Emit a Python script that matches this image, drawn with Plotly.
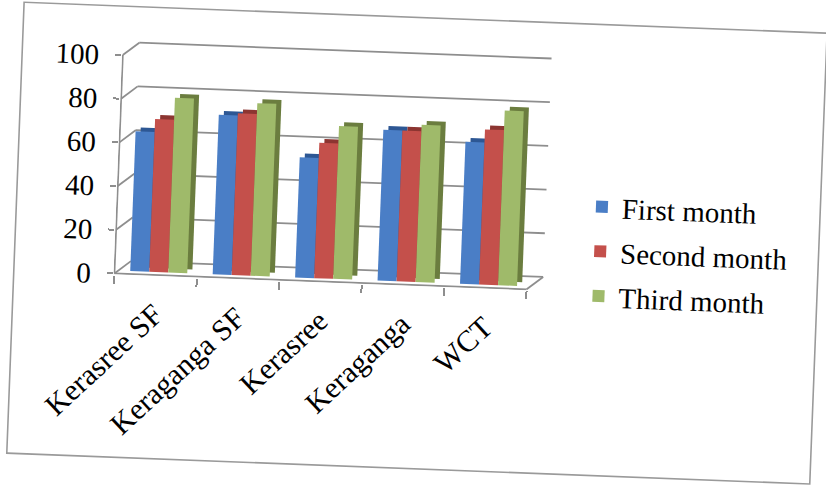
import plotly.graph_objects as go

# ---- data -----------------------------------------------------------------
categories = ["Kerasree SF", "Keraganga SF", "Kerasree", "Keraganga", "WCT"]
series_names = ["First month", "Second month", "Third month"]
first_month = [64, 73, 55, 69, 65]
second_month = [70, 74, 62, 69, 71]
third_month = [80, 79, 70, 72, 80]
y_ticks = [0, 20, 40, 60, 80, 100]

series_values = [first_month, second_month, third_month]
front_colors = ["#4a7ec6", "#c4504b", "#9fba6a"]
side_colors = ["#2d5794", "#8c3531", "#6b7d3f"]

# ---- geometry of the pseudo-3D box (pixels, before the page tilt) ---------
W, H = 826, 485
PX_X = 82.4        # pixels per category
PX_Y = 2.19        # pixels per value unit
FRONT_LEFT = 116   # pixel column of the front value axis
FRONT_ZERO = 285   # pixel row of value 0 on the front plane
X_RANGE = [-0.51, 4.75]
Y_RANGE = [-0.5, 107]

plot_left = FRONT_LEFT + (X_RANGE[0] + 0.5) * PX_X
plot_right = FRONT_LEFT + (X_RANGE[1] + 0.5) * PX_X
plot_bottom = FRONT_ZERO - Y_RANGE[0] * PX_Y
plot_top = FRONT_ZERO - Y_RANGE[1] * PX_Y

WALL_DX, WALL_DY = 16 / PX_X, 13 / PX_Y    # depth of the back wall
BAR_DX, BAR_DY = 3 / PX_X, 3 / PX_Y        # bars stand slightly behind the front edge
SIDE_DX, SIDE_DY = 5 / PX_X, 4 / PX_Y      # visible side / top faces of each column
BAR_W = 19 / PX_X

n_cat = len(categories)
x_idx = list(range(n_cat))
x_lo, x_hi = -0.5, n_cat - 0.5

grid_color = "#8e8e8e"
font_family = "Liberation Serif, Times New Roman, serif"

fig = go.Figure()

for k, (name, vals) in enumerate(zip(series_names, series_values)):
    off = -1.5 * BAR_W + k * BAR_W + BAR_DX
    # darker block behind the face gives the side and top of the column
    fig.add_trace(go.Bar(
        x=x_idx, y=vals, base=BAR_DY + SIDE_DY,
        offset=off + SIDE_DX, width=BAR_W,
        marker=dict(color=side_colors[k], line=dict(width=0)),
        legendgroup=name, showlegend=False, hoverinfo="skip",
    ))
    fig.add_trace(go.Bar(
        x=x_idx, y=vals, base=BAR_DY,
        offset=off, width=BAR_W,
        name=name, legendgroup=name,
        marker=dict(color=front_colors[k], line=dict(width=0)),
    ))

shapes = []
line = dict(color=grid_color, width=1.8)
for v in y_ticks:
    # back-wall gridline
    shapes.append(dict(type="line", xref="x", yref="y", layer="below",
                       x0=x_lo + WALL_DX, y0=v + WALL_DY,
                       x1=x_hi + WALL_DX, y1=v + WALL_DY, line=line))
    # side-wall connector from the front axis to the back wall
    shapes.append(dict(type="line", xref="x", yref="y", layer="below",
                       x0=x_lo, y0=v, x1=x_lo + WALL_DX, y1=v + WALL_DY,
                       line=line))
# front value axis
shapes.append(dict(type="line", xref="x", yref="y", layer="below",
                   x0=x_lo, y0=0, x1=x_lo, y1=y_ticks[-1], line=line))
# front and right edges of the floor
shapes.append(dict(type="line", xref="x", yref="y", layer="below",
                   x0=x_lo, y0=0, x1=x_hi, y1=0, line=line))
shapes.append(dict(type="line", xref="x", yref="y", layer="below",
                   x0=x_hi, y0=0, x1=x_hi + WALL_DX, y1=WALL_DY, line=line))


def px_to_paper_x(px):
    return (px - plot_left) / (plot_right - plot_left)


def px_to_paper_y(py):
    return (plot_bottom - py) / (plot_bottom - plot_top)


# chart border
shapes.append(dict(type="rect", xref="paper", yref="paper", layer="below",
                   x0=px_to_paper_x(15.5), x1=px_to_paper_x(818),
                   y0=px_to_paper_y(469), y1=px_to_paper_y(17),
                   line=dict(color="#9a9a9a", width=1.6),
                   fillcolor="rgba(0,0,0,0)"))

fig.update_layout(
    width=W, height=H,
    paper_bgcolor="white", plot_bgcolor="rgba(0,0,0,0)",
    barmode="overlay",
    margin=dict(l=plot_left, r=W - plot_right, t=plot_top, b=H - plot_bottom,
                autoexpand=False),
    font=dict(family=font_family, color="black"),
    shapes=shapes,
    showlegend=True,
    legend=dict(
        x=px_to_paper_x(580), xanchor="left",
        y=px_to_paper_y(174), yanchor="top",
        traceorder="grouped", tracegroupgap=4,
        font=dict(family=font_family, size=29, color="black"),
        bgcolor="rgba(0,0,0,0)", borderwidth=0,
    ),
    xaxis=dict(
        range=X_RANGE, showgrid=False, zeroline=False, showline=False,
        tickmode="array", tickvals=x_idx, ticktext=categories,
        ticks="", tickangle=-45, ticklabelstandoff=14,
        tickfont=dict(family=font_family, size=30, color="black"),
        minor=dict(tickmode="array", tickvals=[i - 0.5 for i in range(n_cat + 1)],
                   ticks="outside", ticklen=8, tickwidth=1.8,
                   tickcolor=grid_color, showgrid=False),
    ),
    yaxis=dict(
        range=Y_RANGE, showgrid=False, zeroline=False, showline=False,
        tickmode="array", tickvals=y_ticks,
        ticks="outside", ticklen=6, tickwidth=1.8, tickcolor=grid_color,
        ticklabelstandoff=10,
        tickfont=dict(family=font_family, size=29, color="black"),
    ),
)

# the printed chart sits slightly tilted on the page
tilt = (
    "var gd = document.getElementById('{plot_id}');"
    "gd.style.transformOrigin = '413px 242px';"
    "gd.style.transform = 'rotate(2.2deg)';"
    "document.body.style.overflow = 'hidden';"
)

fig.write_html("out.html", post_script=tilt)
